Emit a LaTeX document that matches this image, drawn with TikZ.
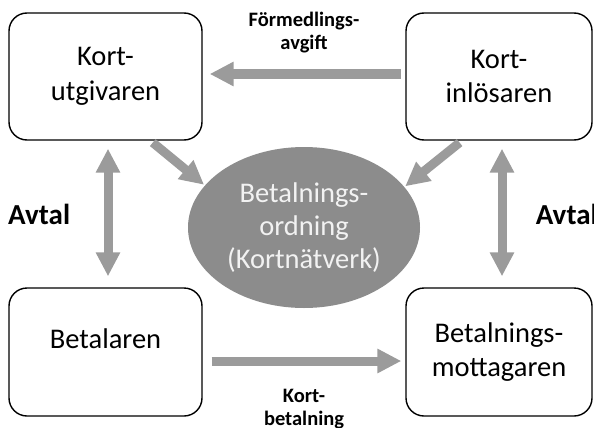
\documentclass[tikz,border=0pt]{standalone}
\usepackage{fontspec}
\setmainfont{Carlito}
\usepackage{tikz}
\usetikzlibrary{arrows.meta,shapes.geometric}
\definecolor{grigiofreccia}{RGB}{155,155,155}
\definecolor{grigioellisse}{RGB}{140,140,140}
\definecolor{testoellisse}{RGB}{242,242,242}

\begin{document}
\begin{tikzpicture}[x=1pt,y=-1pt,
    scatola/.style={draw,line width=1.4pt,rounded corners=18pt,align=center,
        font=\fontsize{28.5}{34.5}\selectfont},
    freccia/.style={draw=grigiofreccia,line width=9pt,
        >={Triangle[width=23pt,length=24pt]}},
    etichetta/.style={align=center,font=\fontsize{20.5}{23}\selectfont\bfseries},
    avtal/.style={font=\fontsize{29}{32}\selectfont\bfseries}]
    \useasboundingbox (0,0) rectangle (594,428);
    % Disegna le scatole
    \node[scatola,minimum width=193pt,minimum height=127pt] (utg) at (105.5,76.5) {Kort-\\utgivaren};
    \node[scatola,minimum width=186pt,minimum height=127pt] (inl) at (499,76.5) {Kort-\\inlösaren};
    \node[scatola,minimum width=193pt,minimum height=128pt,text height=20pt,text depth=28pt] (bet) at (105.5,352) {Betalaren};
    \node[scatola,minimum width=186pt,minimum height=128pt] (mot) at (499,352) {Betalnings-\\mottagaren};
    % Disegna l'ellisse
    \node[ellipse,fill=grigioellisse,text=testoellisse,minimum width=232pt,minimum height=161pt,
        inner sep=0pt,align=center,font=\fontsize{28.5}{33}\selectfont] (ord) at (304,227.5)
        {Betalnings-\\ordning\\(Kortnätverk)};
    % Disegna le frecce
    \draw[freccia,->,shorten <=4.7pt,shorten >=7pt] ([yshift=2.5pt]inl.west) -- ([yshift=2.5pt]utg.east)
        node[etichetta,midway,above=13pt] {Förmedlings-\\avgift};
    \draw[freccia,->,shorten <=9pt,shorten >=4pt] ([yshift=-9pt]bet.east) -- ([yshift=-9pt]mot.west)
        node[etichetta,midway,below=20pt] {Kort-\\betalning};
    \draw[freccia,<->,shorten <=8pt,shorten >=11pt] ([xshift=2.5pt]utg.south) -- ([xshift=2.5pt]bet.north)
        node[avtal,midway,left=30pt] {Avtal};
    \draw[freccia,<->,shorten <=8pt,shorten >=11pt] ([xshift=3pt]inl.south) -- ([xshift=3pt]mot.north)
        node[avtal,midway,right=26pt] {Avtal};
    \draw[freccia,->,shorten <=3pt,shorten >=1pt] (utg.-55) -- (ord.157);
    \draw[freccia,->,shorten <=3pt,shorten >=1pt] (inl.-120) -- (ord.22);
\end{tikzpicture}
\end{document}
